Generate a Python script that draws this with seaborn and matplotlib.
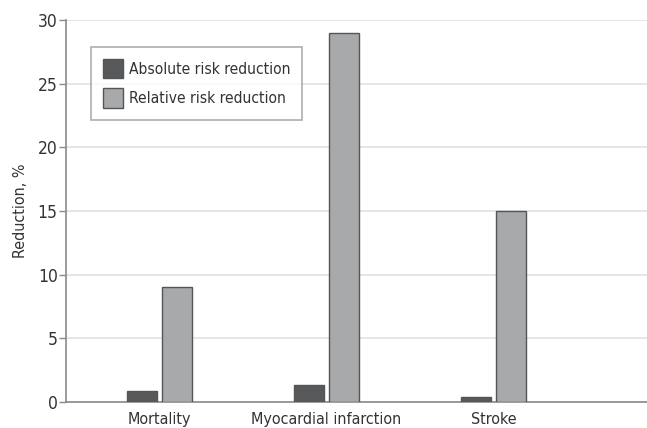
import matplotlib
matplotlib.use("Agg")
import matplotlib.pyplot as plt
import seaborn as sns
import pandas as pd

# data
outcomes = ["Mortality", "Myocardial infarction", "Stroke"]
absolute_rr = [0.84, 1.33, 0.42]
relative_rr = [9, 29, 15]
series = ["Absolute risk reduction", "Relative risk reduction"]

df = pd.DataFrame({
    "outcome": outcomes * 2,
    "measure": [series[0]] * 3 + [series[1]] * 3,
    "value": absolute_rr + relative_rr,
})

sns.set_style("white")
plt.rcParams["font.family"] = ["DejaVu Sans"]
plt.rcParams["font.stretch"] = "condensed"
text_col = "#333333"

fig = plt.figure(figsize=(6.47, 4.28), dpi=100)
ax = fig.add_axes([0.102, 0.061, 0.898, 0.892])

sns.barplot(data=df, x="outcome", y="value", hue="measure",
            palette=["#58595b", "#a7a9ac"], width=0.42, gap=0.14,
            edgecolor="#555555", linewidth=1.0, ax=ax, zorder=3)

ax.set_xlim(-0.56, 2.92)
ax.set_ylim(0, 30)
ax.set_yticks(range(0, 31, 5))
ax.yaxis.grid(True, color="#e2e2e2", lw=1.2, zorder=0)
ax.set_axisbelow(True)

for s in ["top", "right"]:
    ax.spines[s].set_visible(False)
ax.spines["left"].set_color("#8a8a8a")
ax.spines["bottom"].set_color("#8a8a8a")
ax.spines["left"].set_linewidth(1.2)
ax.spines["bottom"].set_linewidth(1.2)

ax.tick_params(axis="y", length=5, width=1, color="#8a8a8a", labelsize=12.5,
               labelcolor=text_col, pad=1, left=True)
ax.tick_params(axis="x", length=0, labelsize=11.5, labelcolor=text_col, pad=7)
ax.set_xlabel("")
ax.set_ylabel("Reduction, %", fontsize=11.5, color=text_col, labelpad=7)

leg = ax.legend(loc="upper left", bbox_to_anchor=(0.043, 0.929), fontsize=11.2,
                frameon=True, fancybox=False, edgecolor="#9a9a9a",
                borderaxespad=0, handlelength=1.3, handleheight=1.55,
                borderpad=0.75, labelspacing=0.65, handletextpad=0.4)
leg.get_frame().set_linewidth(1.2)
for t in leg.get_texts():
    t.set_color(text_col)

fig.savefig("out.png", dpi=100)
